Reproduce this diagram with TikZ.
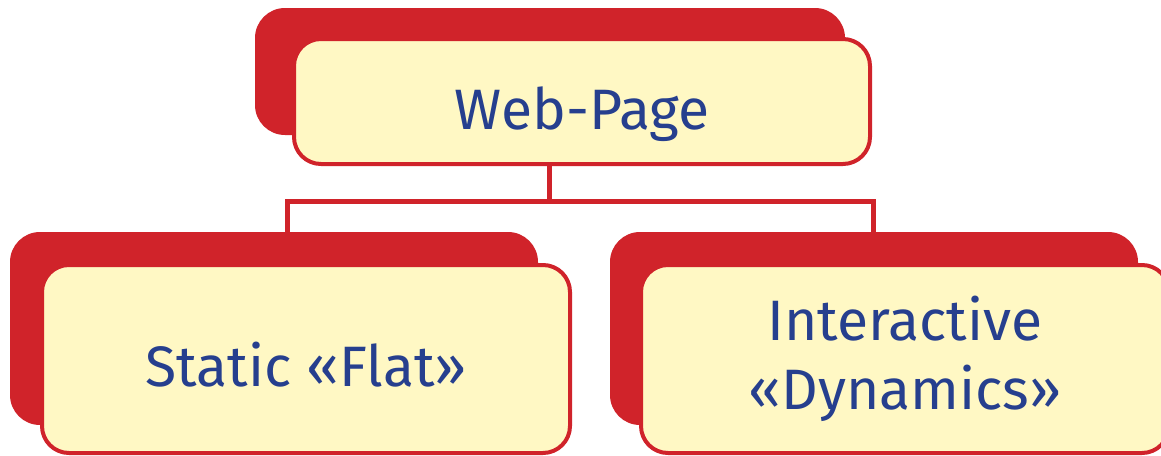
\documentclass[tikz,border=0pt]{standalone}
\usepackage{fontspec}
\setmainfont{Fira Sans}
\usetikzlibrary{positioning}

\definecolor{boxred}{HTML}{D0232A}
\definecolor{boxfill}{HTML}{FFF8C4}
\definecolor{textblue}{HTML}{263F8E}

\tikzset{
  backbox/.style={fill=boxred, draw=none, rounded corners=30pt},
  frontbox/.style={fill=boxfill, draw=boxred, line width=4pt,
    rounded corners=27pt, text=textblue, align=center,
    font=\fontsize{57}{69}\selectfont},
  oneline/.style={text height=55pt, text depth=0pt},
  link/.style={draw=boxred, line width=5pt, line join=miter}
}

\begin{document}
\begin{tikzpicture}[x=1pt,y=-1pt]
    \useasboundingbox (0,0) rectangle (1161,455);

    % FIRST LAYER
    \node[backbox,
      minimum width=590pt,
    minimum height=127pt] (PAGE_BACK) at (550,71.5) {};
    \node[frontbox, oneline,
      minimum width=576pt,
    minimum height=125pt] (PAGE) at (582,101.5) {Web-Page};


    % SECOND LAYER
    \node[backbox,
      minimum width=528pt,
    minimum height=193pt] (STATIC_BACK) at (274,328.5) {};
    \node[frontbox, oneline,
      minimum width=528pt,
    minimum height=188pt] (STATIC) at (306,359) {Static «Flat»};

    \node[backbox,
      minimum width=528pt,
    minimum height=193pt] (DYNAMIC_BACK) at (874,328.5) {};
    \node[frontbox,
      minimum width=528pt,
    minimum height=188pt] (DYNAMIC) at (905,359)
    {
      Interactive \\
      «Dynamics»
    };


    % LINES
    \coordinate (BUS_LEFT) at (287,201);
    \coordinate (BUS_MID) at (549,201);
    \coordinate (BUS_RIGHT) at (873,201);
    \draw[link] (PAGE.south -| BUS_MID) -- (BUS_MID);
    \draw[link] (STATIC_BACK.north -| BUS_LEFT) |- (BUS_RIGHT)
      -- (DYNAMIC_BACK.north -| BUS_RIGHT);
\end{tikzpicture}
\end{document}
